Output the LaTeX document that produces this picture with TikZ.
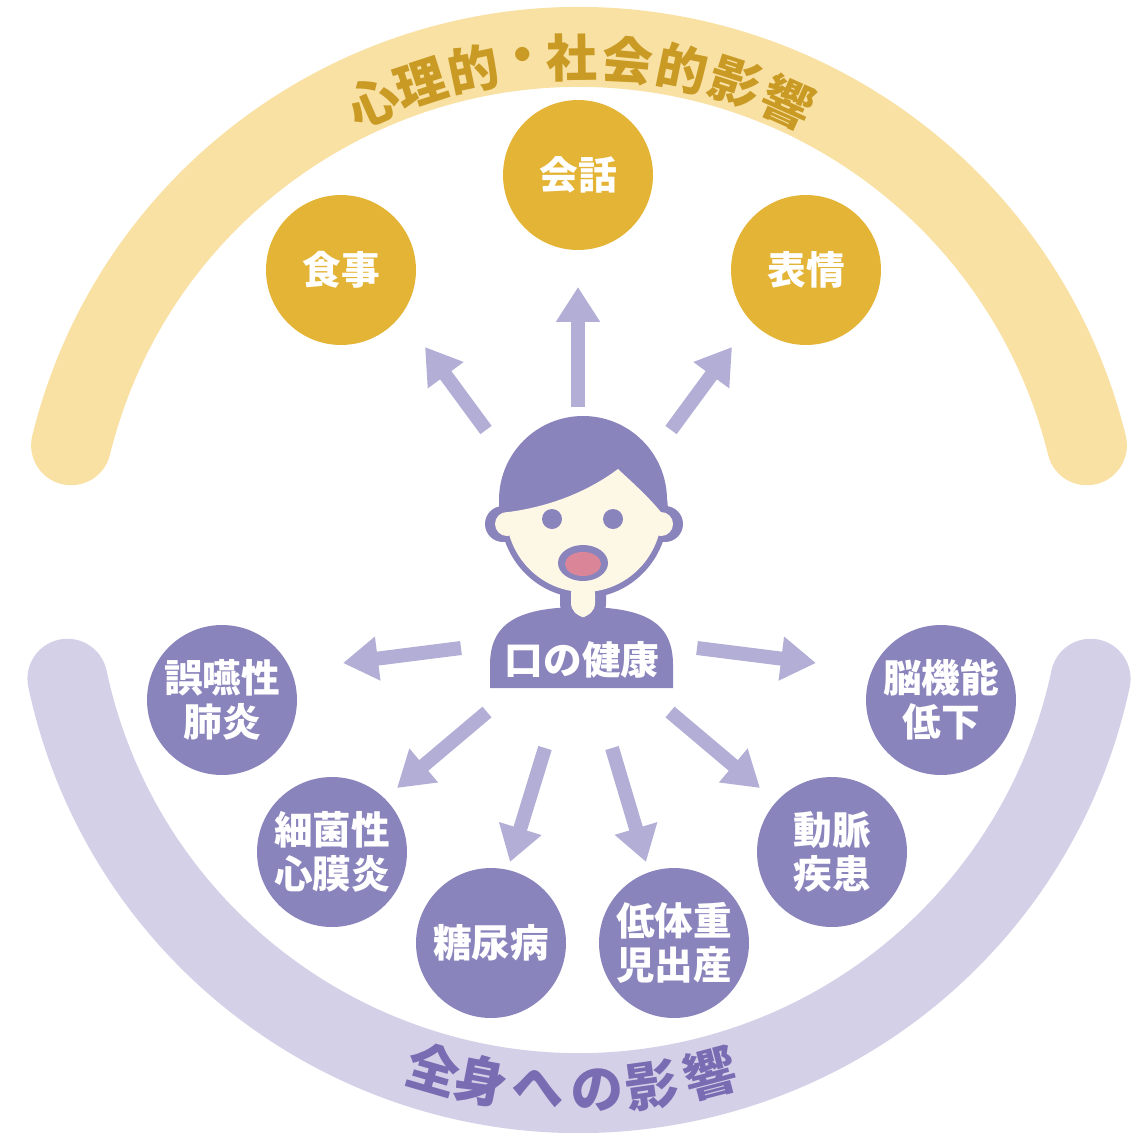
\documentclass[tikz,border=0pt]{standalone}
\usepackage{fontspec}
\setmainfont{Noto Sans CJK JP}
\usetikzlibrary{arrows.meta}

\definecolor{bandgold}{HTML}{F9E0A3}
\definecolor{bandlav}{HTML}{D4D0E8}
\definecolor{goldfill}{HTML}{E4B437}
\definecolor{goldtext}{HTML}{C99A24}
\definecolor{lavfill}{HTML}{8A84BC}
\definecolor{lavtext}{HTML}{7A6CB2}
\definecolor{arrowlav}{HTML}{B2AED6}
\definecolor{cream}{HTML}{FDF7E6}
\definecolor{mouthpink}{HTML}{DB8599}

\tikzset{
  band/.style={line width=1.6cm, line cap=round},
  psylabel/.style={text=goldtext, font=\bfseries\fontsize{29}{29}\selectfont, inner sep=0pt},
  bodylabel/.style={text=lavtext, font=\bfseries\fontsize{30}{30}\selectfont, inner sep=0pt},
  gold/.style={circle, fill=goldfill, minimum size=3cm, inner sep=0pt, text=white,
    font=\bfseries\fontsize{22}{25}\selectfont, align=center},
  lav/.style={circle, fill=lavfill, minimum size=3cm, inner sep=0pt, text=white,
    font=\bfseries\fontsize{22}{25}\selectfont, align=center},
  fat/.style={draw=arrowlav, line width=0.28cm, -{Triangle[width=0.84cm,length=0.7cm]}},
}

\begin{document}
\begin{tikzpicture}[x=0.02cm, y=-0.02cm]
\useasboundingbox (0,0) rectangle (1138,1132);

% the two bands
\draw[band, bandgold] (579,570) ++(-166.2:523) arc[start angle=-166.2, end angle=-13.8, radius=523];
\draw[band, bandlav] (579,570) ++(-192:523) arc[start angle=-192, end angle=-348, radius=523];

% lettering set along the bands
\begin{scope}[shift={(579,570)}]
  \foreach \c/\a [count=\i, evaluate=\a as \r using \a-90] in
      {心/113.7,理/108,的/101.9,・/96.2,社/90.8,会/84.6,的/78.3,影/72.2,響/65.9}
    \node[psylabel, rotate=\r] (psy\i) at (-\a:512) {\c};
  \foreach \c/\a [count=\i, evaluate=\a as \r using \a+90] in
      {全/253.8,身/259.1,へ/265.5,の/272,影/278,響/284.6}
    \node[bodylabel, rotate=\r] (body\i) at (-\a:520) {\c};
\end{scope}

% upper circles
\node[gold] (shokuji) at (341,270) {食事};
\node[gold] (kaiwa) at (578,175) {会話};
\node[gold] (hyojo) at (806,270) {表情};

% lower circles
\node[lav] (goen) at (222,700) {誤嚥性\\肺炎};
\node[lav] (saikin) at (332,852) {細菌性\\心膜炎};
\node[lav] (tonyo) at (491,943) {糖尿病};
\node[lav] (teitaiju) at (674,943) {低体重\\児出産};
\node[lav] (domyaku) at (832,852) {動脈\\疾患};
\node[lav] (noukino) at (941,700) {脳機能\\低下};

% arrow ends
\coordinate (up1) at (486,430);  \coordinate (up1t) at (425,347);
\coordinate (up2) at (578,407);  \coordinate (up2t) at (578,287);
\coordinate (up3) at (671,430);  \coordinate (up3t) at (732,347);
\coordinate (dn1) at (461,648);  \coordinate (dn1t) at (343,663);
\coordinate (dn2) at (487,712);  \coordinate (dn2t) at (397,788);
\coordinate (dn3) at (545,748);  \coordinate (dn3t) at (510,862);
\coordinate (dn4) at (612,748);  \coordinate (dn4t) at (646,862);
\coordinate (dn5) at (670,712);  \coordinate (dn5t) at (760,788);
\coordinate (dn6) at (697,648);  \coordinate (dn6t) at (816,663);

\foreach \a in {up1,up2,up3,dn1,dn2,dn3,dn4,dn5,dn6}
  \draw[fat] (\a) -- (\a t);

% person
\fill[lavfill, rounded corners=8] (560,578) rectangle (606,618);
\fill[lavfill] (490,688) -- (490,665) .. controls (490,625) and (515,607) .. (582,607)
  .. controls (649,607) and (673,625) .. (673,665) -- (673,688) -- cycle;
\fill[lavfill] (503,524) circle[radius=18];
\fill[lavfill] (665,524) circle[radius=18];
\fill[lavfill] (583,500) circle[radius=84];
\fill[lavfill] (584,512) ellipse[x radius=84, y radius=86];
\fill[cream] (507,524) circle[radius=12];
\fill[cream] (661,524) circle[radius=12];
\begin{scope}
  \clip (470,513) -- (500,513) .. controls (550,508) and (590,490) .. (618,469)
    .. controls (635,485) and (650,498) .. (664,516) -- (700,516) -- (700,640) -- (470,640) -- cycle;
  \fill[cream] (584,512) ellipse[x radius=78, y radius=80];
\end{scope}
\fill[cream, rounded corners=8] (571,580) rectangle (595,617);
\fill[lavfill] (552,519) circle[radius=10];
\fill[lavfill] (613,519) circle[radius=10];
\fill[lavfill] (583,563) ellipse[x radius=25, y radius=18];
\fill[mouthpink] (583,564) ellipse[x radius=18, y radius=12];

\node[text=white, font=\bfseries\fontsize{22}{22}\selectfont] (kenko) at (582,660) {口の健康};

\end{tikzpicture}
\end{document}
